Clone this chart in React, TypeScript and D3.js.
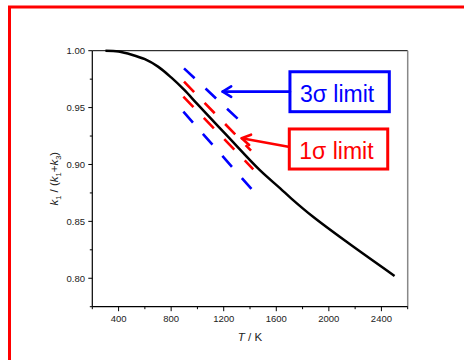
import React from "react";
import * as d3 from "d3";

// Main curve: T (K) vs k1/(k1+k3)
const curveT = [300, 400, 500, 600, 700, 800, 900, 1000, 1220, 1475, 1630, 1715, 1880, 2135, 2500];
const curveV = [1.0, 0.9993, 0.9965, 0.9925, 0.986, 0.9765, 0.9655, 0.953, 0.926, 0.895, 0.879, 0.87, 0.854, 0.832, 0.802];

// Limit lines (start / end points in data units)
const sigma3UpperT = [898, 1311];
const sigma3UpperV = [0.9845, 0.9397];
const sigma3LowerT = [893, 1413];
const sigma3LowerV = [0.9464, 0.8782];
const sigma1UpperT = [898, 1408];
const sigma1UpperV = [0.9728, 0.9121];
const sigma1LowerT = [893, 1425];
const sigma1LowerV = [0.9596, 0.8957];

const xMajorTicks = [400, 800, 1200, 1600, 2000, 2400];
const xMinorTicks = [200, 600, 1000, 1400, 1800, 2200, 2600];
const yMajorTicks = [0.8, 0.85, 0.9, 0.95, 1.0];
const yMinorTicks = [0.775, 0.825, 0.875, 0.925, 0.975];

const xDomain = [200, 2600];
const yDomain = [0.775, 1.0];

// Annotation anchors in data units
const box3T = [1704, 2460];
const box3V = [0.9815, 0.9464];
const arrow3T = [1704, 1192];
const arrow3V = [0.964, 0.964];
const box1T = [1699, 2448];
const box1V = [0.9312, 0.896];
const arrow1T = [1692, 1337];
const arrow1V = [0.9156, 0.923];

const FONT = "'Liberation Sans', Arial, sans-serif";
const BLUE = "#0000ff";
const RED = "#ff0000";

export default function App() {
  const W = 464, H = 360;
  const x = d3.scaleLinear().domain(xDomain).range([92.3, 407.7]);
  const y = d3.scaleLinear().domain(yDomain).range([306.7, 50.7]);

  const line = d3
    .line<number>()
    .x((_, i) => x(curveT[i]))
    .y((d) => y(d))
    .curve(d3.curveCatmullRom.alpha(0.5));

  const seg = (T: number[], V: number[]) =>
    d3.line<number>().x((_, i) => x(T[i])).y((d) => y(d))(V) as string;

  const arrow = (T: number[], V: number[], color: string) => {
    const x0 = x(T[0]), y0 = y(V[0]), x1 = x(T[1]), y1 = y(V[1]);
    const a = Math.atan2(y1 - y0, x1 - x0);
    const L = 10, s = 0.55;
    const b1x = x1 - L * Math.cos(a - s), b1y = y1 - L * Math.sin(a - s);
    const b2x = x1 - L * Math.cos(a + s), b2y = y1 - L * Math.sin(a + s);
    return (
      <g stroke={color} strokeWidth={2.6} fill="none" strokeLinecap="round" strokeLinejoin="round">
        <line x1={x0} y1={y0} x2={x1} y2={y1} />
        <path d={`M${b1x},${b1y} L${x1},${y1} L${b2x},${b2y}`} />
      </g>
    );
  };

  const [px0, px1] = x.range();
  const [py0, py1] = y.range();

  return (
    <svg
      width={W}
      height={H}
      style={{ position: "absolute", left: 0, top: 0, background: "#fff" }}
      fontFamily={FONT}
    >
      <rect x={0} y={0} width={W} height={H} fill="#fff" />
      {/* red outer frame */}
      <rect x={9.5} y={7} width={600} height={500} fill="none" stroke={RED} strokeWidth={3} />

      {/* plot box */}
      <line x1={px0} y1={py1} x2={px1} y2={py1} stroke="#000" strokeWidth={1} />
      <line x1={px1} y1={py1} x2={px1} y2={py0} stroke="#888" strokeWidth={1.5} />
      <line x1={px0} y1={py0} x2={px1} y2={py0} stroke="#000" strokeWidth={1.2} />
      <line x1={px0} y1={py0} x2={px0} y2={py1} stroke="#000" strokeWidth={1.2} />

      {/* x ticks */}
      {xMajorTicks.map((t) => (
        <g key={"xM" + t}>
          <line x1={x(t)} x2={x(t)} y1={py0} y2={py0 + 4.5} stroke="#000" />
          <text x={x(t)} y={322} fontSize={9.5} textAnchor="middle" fill="#222">
            {t}
          </text>
        </g>
      ))}
      {xMinorTicks.map((t) => (
        <line key={"xm" + t} x1={x(t)} x2={x(t)} y1={py0} y2={py0 + 2.5} stroke="#000" />
      ))}
      {/* y ticks */}
      {yMajorTicks.map((t) => (
        <g key={"yM" + t}>
          <line x1={px0 - 4} x2={px0} y1={y(t)} y2={y(t)} stroke="#000" />
          <text x={85} y={y(t) + 3.3} fontSize={9.5} textAnchor="end" fill="#222">
            {t.toFixed(2)}
          </text>
        </g>
      ))}
      {yMinorTicks.map((t) => (
        <line key={"ym" + t} x1={px0 - 2.5} x2={px0} y1={y(t)} y2={y(t)} stroke="#000" />
      ))}

      {/* axis titles */}
      <text x={(px0 + px1) / 2} y={341} fontSize={11.5} textAnchor="middle" fill="#222">
        <tspan fontStyle="italic">T</tspan> / K
      </text>
      <text
        transform={`translate(58,${(py0 + py1) / 2}) rotate(-90)`}
        fontSize={11.5}
        textAnchor="middle"
        fill="#222"
      >
        <tspan fontStyle="italic">k</tspan>
        <tspan fontSize={7.5} dy={3}>1</tspan>
        <tspan dy={-3}> / (</tspan>
        <tspan fontStyle="italic">k</tspan>
        <tspan fontSize={7.5} dy={3}>1</tspan>
        <tspan dy={-3}>+</tspan>
        <tspan fontStyle="italic">k</tspan>
        <tspan fontSize={7.5} dy={3}>3</tspan>
        <tspan dy={-3}>)</tspan>
      </text>

      {/* limit lines */}
      <g fill="none" strokeWidth={2.6} strokeDasharray="14.5 15">
        <path d={seg(sigma3UpperT, sigma3UpperV)} stroke={BLUE} />
        <path d={seg(sigma3LowerT, sigma3LowerV)} stroke={BLUE} />
        <path d={seg(sigma1UpperT, sigma1UpperV)} stroke={RED} />
        <path d={seg(sigma1LowerT, sigma1LowerV)} stroke={RED} />
      </g>

      {/* main curve */}
      <path d={line(curveV) as string} fill="none" stroke="#000" strokeWidth={2.5} />

      {/* annotations */}
      <rect
        x={x(box3T[0])}
        y={y(box3V[0])}
        width={x(box3T[1]) - x(box3T[0])}
        height={y(box3V[1]) - y(box3V[0])}
        fill="#fff"
        stroke={BLUE}
        strokeWidth={3}
      />
      <text x={x(box3T[0]) + 10} y={y(box3V[1]) - 10} fontSize={23} fill={BLUE}>
        3σ limit
      </text>
      {arrow(arrow3T, arrow3V, BLUE)}

      <rect
        x={x(box1T[0])}
        y={y(box1V[0])}
        width={x(box1T[1]) - x(box1T[0])}
        height={y(box1V[1]) - y(box1V[0])}
        fill="#fff"
        stroke={RED}
        strokeWidth={3}
      />
      <text x={x(box1T[0]) + 10} y={y(box1V[1]) - 10.5} fontSize={23} fill={RED}>
        1σ limit
      </text>
      {arrow(arrow1T, arrow1V, RED)}
    </svg>
  );
}
